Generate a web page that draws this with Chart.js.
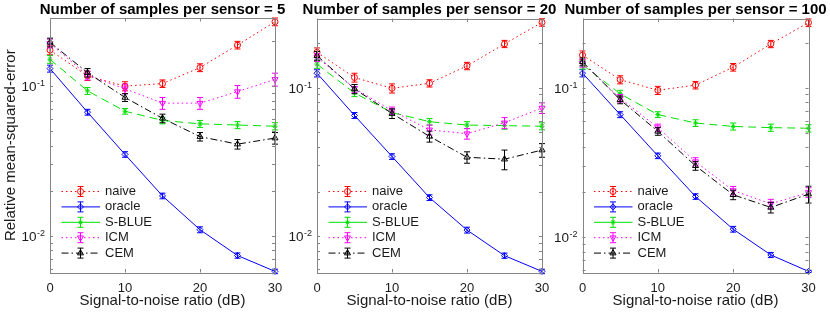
<!DOCTYPE html>
<html>
<head>
<meta charset="utf-8">
<script src="https://cdn.jsdelivr.net/npm/chart.js@4.4.0/dist/chart.umd.min.js"></script>
<style>
  body { margin: 0; background: #fff; }
  #wrap { position: relative; width: 830px; height: 312px; }
  #wrap canvas { position: absolute; left: 0; top: 0; }
</style>
</head>
<body>
<div id="wrap">
  <canvas id="p1" width="830" height="312"></canvas>
  <canvas id="p2" width="830" height="312"></canvas>
  <canvas id="p3" width="830" height="312"></canvas>
</div>
<script>
// data
const snr = [0, 5, 10, 15, 20, 25, 30];
const seriesNames = ['naive', 'oracle', 'S-BLUE', 'ICM', 'CEM'];
const xTicks = [0, 10, 20, 30];
const yTicks = [0.01, 0.1];
const yTickExp = ['-2', '-1'];
const panelTitles = ['Number of samples per sensor = 5', 'Number of samples per sensor = 20', 'Number of samples per sensor = 100'];
const xLabel = 'Signal-to-noise ratio (dB)';
const yLabel = 'Relative mean-squared-error';

// 5 samples per sensor
const naive5 = [0.174, 0.117, 0.100, 0.104, 0.133, 0.188, 0.269];
const oracle5 = [0.131, 0.067, 0.035, 0.0185, 0.0110, 0.0074, 0.0058];
const sblue5 = [0.151, 0.093, 0.068, 0.059, 0.056, 0.055, 0.054];
const icm5 = [0.193, 0.118, 0.096, 0.077, 0.077, 0.092, 0.111];
const cem5 = [0.196, 0.123, 0.084, 0.061, 0.046, 0.041, 0.045];
const naive5Err = [0.012, 0.008, 0.007, 0.006, 0.008, 0.011, 0.016];
const oracle5Err = [0.007, 0.003, 0.0015, 0.0008, 0.0005, 0.0003, 0.0002];
const sblue5Err = [0.009, 0.005, 0.003, 0.003, 0.003, 0.003, 0.003];
const icm5Err = [0.013, 0.008, 0.007, 0.007, 0.007, 0.009, 0.011];
const cem5Err = [0.013, 0.008, 0.005, 0.004, 0.003, 0.003, 0.004];

// 20 samples per sensor
const naive20 = [0.173, 0.117, 0.099, 0.107, 0.140, 0.197, 0.275];
const oracle20 = [0.125, 0.065, 0.0344, 0.0182, 0.0110, 0.0074, 0.0058];
const sblue20 = [0.144, 0.092, 0.068, 0.059, 0.056, 0.0555, 0.055];
const icm20 = [0.160, 0.099, 0.070, 0.052, 0.049, 0.058, 0.073];
const cem20 = [0.164, 0.098, 0.067, 0.047, 0.034, 0.033, 0.038];
const naive20Err = [0.012, 0.008, 0.007, 0.006, 0.008, 0.011, 0.016];
const oracle20Err = [0.007, 0.003, 0.0015, 0.0008, 0.0005, 0.0003, 0.0002];
const sblue20Err = [0.009, 0.005, 0.003, 0.003, 0.003, 0.003, 0.003];
const icm20Err = [0.010, 0.006, 0.004, 0.004, 0.004, 0.005, 0.006];
const cem20Err = [0.011, 0.007, 0.005, 0.004, 0.003, 0.005, 0.004];

// 100 samples per sensor
const naive100 = [0.165, 0.113, 0.096, 0.104, 0.137, 0.196, 0.272];
const oracle100 = [0.125, 0.066, 0.035, 0.0187, 0.0113, 0.0076, 0.0059];
const sblue100 = [0.142, 0.091, 0.066, 0.058, 0.055, 0.054, 0.0535];
const icm100 = [0.146, 0.085, 0.054, 0.032, 0.0205, 0.0167, 0.0199];
const cem100 = [0.149, 0.083, 0.051, 0.030, 0.0192, 0.0158, 0.0194];
const naive100Err = [0.011, 0.007, 0.006, 0.006, 0.008, 0.011, 0.016];
const oracle100Err = [0.007, 0.003, 0.0015, 0.0008, 0.0005, 0.0003, 0.0001];
const sblue100Err = [0.009, 0.005, 0.003, 0.003, 0.003, 0.003, 0.003];
const icm100Err = [0.009, 0.005, 0.003, 0.002, 0.0013, 0.0012, 0.0015];
const cem100Err = [0.009, 0.005, 0.003, 0.002, 0.0014, 0.0013, 0.0025];

const W = 830, H = 312;
const styles = [
    { color: '#ff0000', dash: [1.5, 3], legendDash: [1.5, 3], point: 'circle', rot: 0, r: 3 },
    { color: '#0000ff', dash: [], legendDash: [], point: 'rectRot', rot: 0, r: 3 },
    { color: '#00e000', dash: [8, 5], legendDash: [], point: 'star', rot: 0, r: 2.5 },
    { color: '#ff00ff', dash: [1.5, 3], legendDash: [1.5, 3], point: 'triangle', rot: 180, r: 3.5 },
    { color: '#000000', dash: [7, 3, 1.5, 3], legendDash: [7, 3, 1.5, 3], point: 'triangle', rot: 0, r: 3.5 }
];
const FONT = '"Liberation Sans", Arial, sans-serif';

function drawErrorBar(ctx, x, yLo, yHi, color) {
    ctx.save();
    ctx.strokeStyle = color;
    ctx.lineWidth = 1;
    ctx.setLineDash([]);
    ctx.beginPath();
    ctx.moveTo(x, yLo); ctx.lineTo(x, yHi);
    ctx.moveTo(x - 3, yLo); ctx.lineTo(x + 3, yLo);
    ctx.moveTo(x - 3, yHi); ctx.lineTo(x + 3, yHi);
    ctx.stroke();
    ctx.restore();
}

const panelDecor = {
    id: 'panelDecor',
    afterDatasetDraw(chart, args) {
        const ds = chart.data.datasets[args.index];
        const ys = chart.scales.y;
        const ctx = chart.ctx;
        args.meta.data.forEach((pt, j) => {
            const v = ds.data[j].y, e = ds.errors[j];
            drawErrorBar(ctx, pt.x, ys.getPixelForValue(v - e), ys.getPixelForValue(v + e), ds.borderColor);
        });
    },
    afterDraw(chart, args, opts) {
        const ctx = chart.ctx;
        const a = chart.chartArea;
        const xs = chart.scales.x, ys = chart.scales.y;
        ctx.save();
        // box
        ctx.strokeStyle = '#858585';
        ctx.lineWidth = 1;
        ctx.strokeRect(Math.round(a.left) + 0.5, Math.round(a.top) + 0.5, Math.round(a.right - a.left), Math.round(a.bottom - a.top));
        // inward ticks
        ctx.beginPath();
        xTicks.forEach(t => {
            const px = Math.round(xs.getPixelForValue(t)) + 0.5;
            ctx.moveTo(px, a.bottom); ctx.lineTo(px, a.bottom - 3.5);
            ctx.moveTo(px, a.top); ctx.lineTo(px, a.top + 3.5);
        });
        for (let k = -3; k <= 0; k++) {
            for (let m = 1; m <= 9; m++) {
                const v = m * Math.pow(10, k);
                if (v < ys.min || v > ys.max) continue;
                const py = Math.round(ys.getPixelForValue(v)) + 0.5;
                ctx.moveTo(a.left, py); ctx.lineTo(a.left + 3, py);
                ctx.moveTo(a.right, py); ctx.lineTo(a.right - 3, py);
            }
        }
        ctx.stroke();
        // tick labels
        ctx.fillStyle = '#1a1a1a';
        ctx.font = '13px ' + FONT;
        ctx.textAlign = 'center';
        ctx.textBaseline = 'alphabetic';
        xTicks.forEach(t => ctx.fillText(String(t), xs.getPixelForValue(t), 292));
        yTicks.forEach((t, i) => {
            const py = ys.getPixelForValue(t);
            ctx.font = '9px ' + FONT;
            const ew = ctx.measureText(yTickExp[i]).width;
            ctx.textAlign = 'right';
            ctx.fillText(yTickExp[i], a.left - 5, py);
            ctx.font = '13.5px ' + FONT;
            ctx.fillText('10', a.left - 5 - ew - 0.5, py + 5);
        });
        // x label
        ctx.font = '15px ' + FONT;
        ctx.textAlign = 'center';
        ctx.fillText(xLabel, (a.left + a.right) / 2, 305);
        // title
        ctx.font = 'bold 15px ' + FONT;
        ctx.fillStyle = '#000';
        ctx.fillText(opts.title, (a.left + a.right) / 2, 13.5);
        // y label
        if (opts.withYLabel) {
            ctx.save();
            ctx.fillStyle = '#1a1a1a';
            ctx.font = '15px ' + FONT;
            ctx.translate(14.5, (a.top + a.bottom) / 2);
            ctx.rotate(-Math.PI / 2);
            ctx.textAlign = 'center';
            ctx.fillText(yLabel, 0, 0);
            ctx.restore();
        }
        // legend
        chart.data.datasets.forEach((ds, i) => {
            const st = styles[i];
            const y = 191.5 + i * 15.4;
            const x0 = a.left + 11.5, x1 = a.left + 50, xm = a.left + 30.5;
            ctx.save();
            ctx.strokeStyle = st.color;
            ctx.lineWidth = 1;
            ctx.setLineDash(st.legendDash);
            ctx.beginPath();
            ctx.moveTo(x0, y); ctx.lineTo(x1, y);
            ctx.stroke();
            ctx.restore();
            drawErrorBar(ctx, xm, y - 5, y + 5, st.color);
            ctx.save();
            ctx.strokeStyle = st.color;
            ctx.fillStyle = st.point === 'star' ? st.color : 'rgba(0,0,0,0)';
            ctx.lineWidth = 1;
            Chart.helpers.drawPoint(ctx, { pointStyle: st.point, rotation: st.rot, radius: st.r, borderWidth: 1 }, xm, y);
            ctx.restore();
            ctx.fillStyle = '#1a1a1a';
            ctx.font = '13px ' + FONT;
            ctx.textAlign = 'left';
            ctx.textBaseline = 'middle';
            ctx.fillText(ds.label, a.left + 55, y);
            ctx.textBaseline = 'alphabetic';
        });
        ctx.restore();
    }
};

function makePanel(id, area, yMin, yMax, title, values, errors, withYLabel) {
    const datasets = seriesNames.map((name, i) => ({
        label: name,
        data: snr.map((x, j) => ({ x: x, y: values[i][j] })),
        errors: errors[i],
        borderColor: styles[i].color,
        borderWidth: 1,
        borderDash: styles[i].dash,
        pointStyle: styles[i].point,
        pointRotation: styles[i].rot,
        pointRadius: styles[i].r,
        pointBorderWidth: 1,
        pointBorderColor: styles[i].color,
        pointBackgroundColor: styles[i].point === 'star' ? styles[i].color : 'rgba(0,0,0,0)',
        fill: false,
        tension: 0,
        clip: false,
        order: 5 - i
    }));
    return new Chart(document.getElementById(id), {
        type: 'line',
        data: { datasets: datasets },
        options: {
            responsive: false,
            animation: false,
            devicePixelRatio: 1,
            events: [],
            layout: { padding: { left: area.l, right: W - area.r, top: area.t, bottom: H - area.b } },
            scales: {
                x: { type: 'linear', min: 0, max: 30, display: false },
                y: { type: 'logarithmic', min: yMin, max: yMax, display: false }
            },
            plugins: {
                legend: { display: false },
                tooltip: { enabled: false },
                panelDecor: { title: title, withYLabel: withYLabel }
            }
        },
        plugins: [panelDecor]
    });
}

makePanel('p1', { l: 50, r: 275, t: 18, b: 272.5 }, 0.0057, 0.285, panelTitles[0],
    [naive5, oracle5, sblue5, icm5, cem5], [naive5Err, oracle5Err, sblue5Err, icm5Err, cem5Err], true);
makePanel('p2', { l: 317, r: 542, t: 18.5, b: 272.5 }, 0.0057, 0.292, panelTitles[1],
    [naive20, oracle20, sblue20, icm20, cem20], [naive20Err, oracle20Err, sblue20Err, icm20Err, cem20Err], false);
makePanel('p3', { l: 582.5, r: 808.5, t: 18.5, b: 272.5 }, 0.0058, 0.290, panelTitles[2],
    [naive100, oracle100, sblue100, icm100, cem100], [naive100Err, oracle100Err, sblue100Err, icm100Err, cem100Err], false);
</script>
</body>
</html>
